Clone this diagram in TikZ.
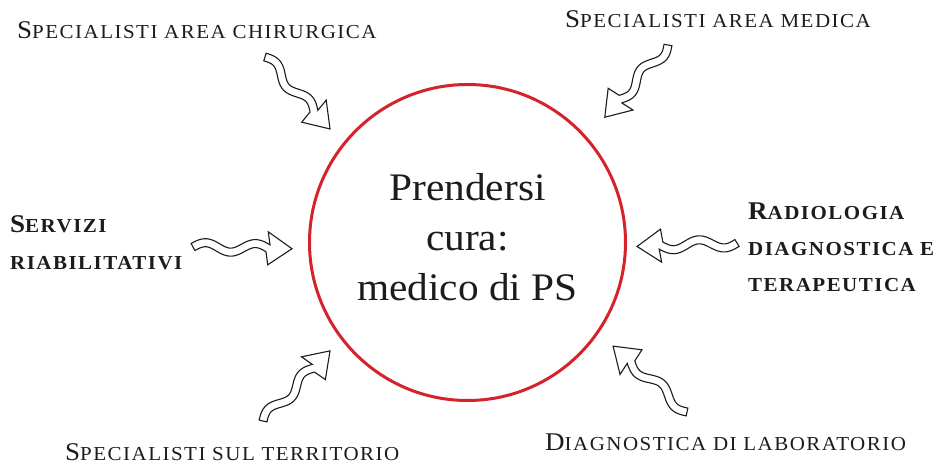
\documentclass[tikz,border=0pt]{standalone}
\usepackage{fontspec}
\setmainfont{Liberation Serif}[FakeStretch=1.06]
\definecolor{psred}{RGB}{212,35,43}
\definecolor{ink}{RGB}{30,27,28}
\newcommand\bigC[1]{{\fontsize{25.5}{36}\selectfont #1}}
\tikzset{
  lab/.style={inner sep=0pt, text=ink, font=\fontsize{19.8}{36}\selectfont\addfontfeature{LetterSpace=7.5}},
  blab/.style={inner sep=0pt, text=ink, align=left, font=\fontsize{19.8}{36}\selectfont\bfseries\addfontfeature{LetterSpace=7.5}},
  wavyline/.style={draw=ink, line width=1.1pt, line join=miter, fill=white},
  pics/wavy/.style={code={
    \pgfmathsetmacro\wvL{#1-24}
    \pgfmathsetmacro\wvP{\wvL/1.5}
    \pgfmathsetmacro\wvK{4.5*6.2832/\wvP}
    \draw[wavyline]
      plot[domain=0:\wvL, samples=45, smooth]
        ({\x-4*\wvK*cos(\x/\wvP*360)/sqrt(1+(\wvK*cos(\x/\wvP*360))^2)},
         {4.5*sin(\x/\wvP*360)+4/sqrt(1+(\wvK*cos(\x/\wvP*360))^2)})
      -- (\wvL,16.5) -- ({\wvL+24},0) -- (\wvL,-16.5)
      -- plot[domain=\wvL:0, samples=45, smooth]
        ({\x+4*\wvK*cos(\x/\wvP*360)/sqrt(1+(\wvK*cos(\x/\wvP*360))^2)},
         {4.5*sin(\x/\wvP*360)-4/sqrt(1+(\wvK*cos(\x/\wvP*360))^2)})
      -- cycle;
  }}
}
\begin{document}
\begin{tikzpicture}[x=1pt,y=1pt]
\useasboundingbox (0,0) rectangle (941,466);
% central circle
\node[circle, draw=psred, line width=3pt, minimum size=316pt, inner sep=0pt] (c) at (467.5,223.5) {};
\node[inner sep=0pt, text=ink, align=center, font=\fontsize{39}{50}\selectfont] (ct) at (467.5,229.3)
  {Prendersi\\cura:\\medico di PS};
% labels
\node[lab, anchor=base west] (l1) at (17,427) {\bigC{S}PECIALISTI AREA CHIRURGICA};
\node[lab, anchor=base west] (l2) at (565,438) {\bigC{S}PECIALISTI AREA MEDICA};
\node[blab, anchor=base west, font=\fontsize{19.8}{37}\selectfont\bfseries\addfontfeature{LetterSpace=7.5}] (l3) at (10,196) {\bigC{S}ERVIZI\\RIABILITATIVI};
\node[blab, anchor=base west] (l4) at (748,175) {\bigC{R}ADIOLOGIA\\DIAGNOSTICA E\\TERAPEUTICA};
\node[lab, anchor=base west] (l5) at (65,6) {\bigC{S}PECIALISTI SUL TERRITORIO};
\node[lab, anchor=base west] (l6) at (545,16) {\bigC{D}IAGNOSTICA DI LABORATORIO};
% arrows
\coordinate (t1) at (265,409);
\coordinate (t2) at (668,421);
\coordinate (t3) at (193,219);
\coordinate (t4) at (737,223);
\coordinate (t5) at (263,45);
\coordinate (t6) at (687,54);
\pic[rotate=-47.9] at (t1) {wavy=97};
\pic[rotate=228.8] at (t2) {wavy=96};
\pic[rotate=-1] at (t3) {wavy=99};
\pic[rotate=182] at (t4) {wavy=100};
\pic[rotate=46.3] at (t5) {wavy=97};
\pic[rotate=138.3] at (t6) {wavy=99};
\end{tikzpicture}
\end{document}
